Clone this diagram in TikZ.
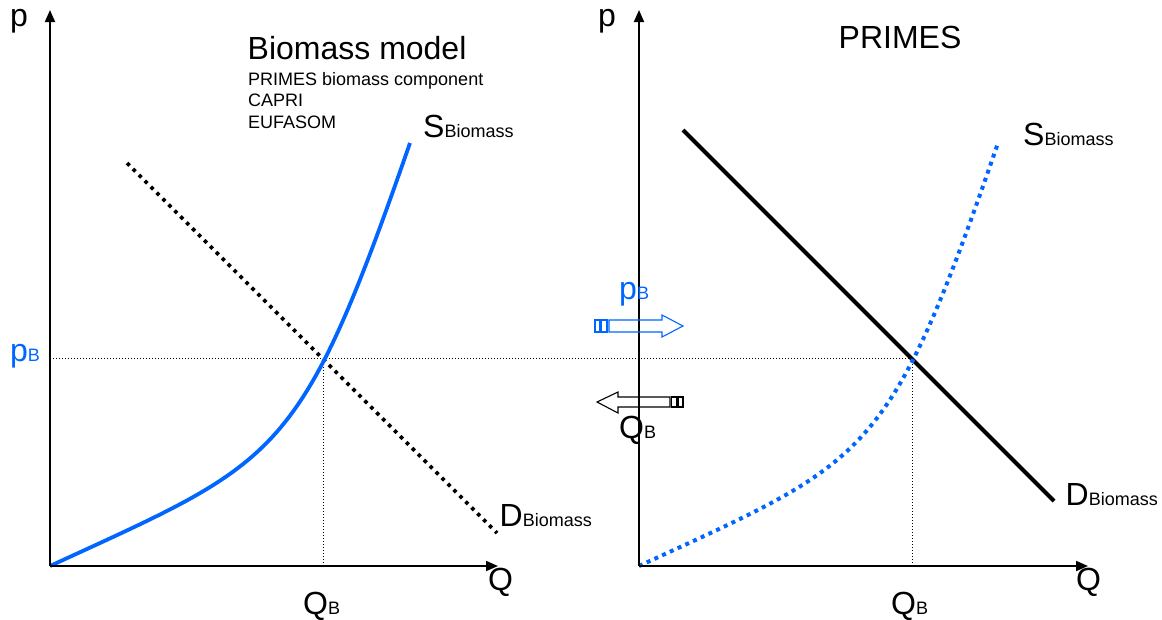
\documentclass[tikz,border=0pt]{standalone}
\usepackage{fontspec}
\setmainfont{Liberation Sans}
\usetikzlibrary{arrows.meta,calc}
\definecolor{cblue}{RGB}{0,102,255}
\newcommand\fbig{\fontsize{32}{38}\selectfont}
\newcommand\fsub{\fontsize{18}{22}\selectfont}
\newcommand\fmid{\fontsize{18}{22}\selectfont}
\begin{document}
\begin{tikzpicture}[x=1pt,y=-1pt,
  axis/.style={line width=1.8pt,-{Triangle[length=12pt,width=10pt]}},
  guide/.style={line width=0.9pt,dash pattern=on 1pt off 2pt},
  supply/.style={line width=3.8pt,cblue},
  supplydot/.style={line width=4pt,cblue,dash pattern=on 4pt off 4.5pt},
  demand/.style={line width=4pt,black},
  demanddot/.style={line width=3.6pt,black,dash pattern=on 3.6pt off 4.8pt},
  lbl/.style={inner sep=0pt,anchor=base west},
  flowarrow/.style={line width=1.1pt}]
\useasboundingbox (0,0) rectangle (1162,619);
% origins and axis ends
\coordinate (O1) at (50,566);
\coordinate (Y1) at (50,10);
\coordinate (X1) at (498,566);
\coordinate (O2) at (639,566);
\coordinate (Y2) at (639,10);
\coordinate (X2) at (1088,566);
\coordinate (E1) at (323,358);
\coordinate (E2) at (912,358);
\coordinate (E1b) at (323,566);
\coordinate (E2b) at (912,566);
\coordinate (PL) at (50,358);
% guides
\draw[guide] (PL) -- (E2);
\draw[guide] (E1) -- (E1b);
\draw[guide] (E2) -- (E2b);
% demand curves
\coordinate (D1s) at (127,163);
\coordinate (D1e) at (497,533);
\draw[demanddot] (D1s) -- (D1e);
\coordinate (D2s) at (683,130);
\coordinate (D2e) at (1054,501);
\draw[demand] (D2s) -- (D2e);
% supply curves
\coordinate (S1e) at (410,143);
\coordinate (S2e) at (998,143);
\draw[supply] (O1) .. controls ($(O1)+(230,-106)$) and ($(O1)+(249,-104)$) .. (S1e);
\draw[supplydot] (O2) .. controls ($(O2)+(230,-106)$) and ($(O2)+(249,-104)$) .. (S2e);
% axes
\draw[axis] (O1) -- (Y1);
\draw[axis] (O1) -- (X1);
\draw[axis] (O2) -- (Y2);
\draw[axis] (O2) -- (X2);
% transfer arrows
\draw[flowarrow,cblue] (595,320) rectangle (600,332);
\draw[flowarrow,cblue] (601.5,320) rectangle (607,332);
\draw[flowarrow,cblue] (609,320) -- (662,320) -- (662,315) -- (683,326) -- (662,337) -- (662,332) -- (609,332) -- cycle;
\draw[flowarrow,black] (670,397) -- (618,397) -- (618,392) -- (597,402) -- (618,413) -- (618,407) -- (670,407) -- cycle;
\draw[flowarrow,black] (671.5,397) rectangle (677,407);
\draw[flowarrow,black] (678.5,397) rectangle (683,407);
% labels
\node[lbl] (p1) at (10,26) {\fbig p};
\node[lbl] (p2) at (598,26) {\fbig p};
\node[lbl] (title1) at (247.5,59) {\fontsize{32}{38}\selectfont Biomass model};
\node[lbl] (m1) at (248,85) {\fmid PRIMES biomass component};
\node[lbl] (m2) at (248,106.5) {\fmid CAPRI};
\node[lbl] (m3) at (248,128) {\fmid EUFASOM};
\node[inner sep=0pt,anchor=base] (title2) at (900,48) {\fbig PRIMES};
\node[lbl] (s1) at (423,137) {\fbig S\fsub Biomass};
\node[lbl] (s2) at (1023,145) {\fbig S\fsub Biomass};
\node[lbl] (d1) at (499.5,526) {\fbig D\fsub Biomass};
\node[lbl] (d2) at (1065.5,505) {\fbig D\fsub Biomass};
\node[lbl] (q1) at (488,590) {\fbig Q};
\node[lbl] (q2) at (1076,590) {\fbig Q};
\node[lbl] (qb1) at (303,614) {\fbig Q\fsub B};
\node[lbl] (qb2) at (891,614) {\fbig Q\fsub B};
\node[lbl] (qb3) at (619,438) {\fbig Q\fsub B};
\node[lbl,text=cblue] (pb1) at (10,361) {\fbig p\fsub B};
\node[lbl,text=cblue] (pb2) at (619,299) {\fbig p\fsub B};
\end{tikzpicture}
\end{document}
